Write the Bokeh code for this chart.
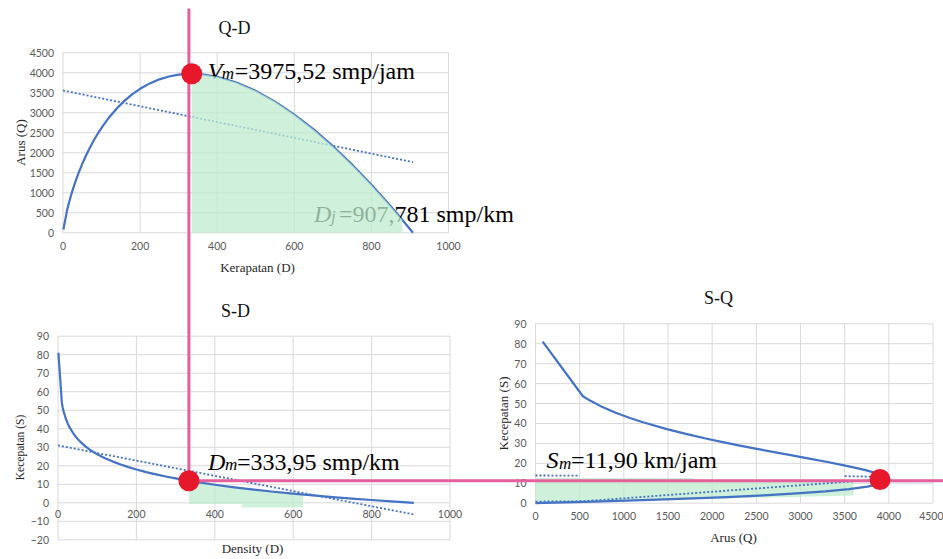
import math

from bokeh.plotting import figure
from bokeh.models import Range1d, LinearAxis, FixedTicker, Label
from bokeh.embed import file_html
from bokeh.resources import INLINE

W, H = 943, 559

# ---- traffic stream readings (density D, speed S, flow Q) ----
density = [1, 10, 12, 15, 20, 25, 30, 40, 50, 60, 70, 80, 90, 100, 120, 140, 160, 180,
           200, 225, 250, 275, 300, 333.95, 360, 400, 450, 500, 550, 600, 650, 700,
           750, 800, 850, 880, 907.78]
speed = [81.05, 53.65, 51.48, 48.82, 45.40, 42.75, 40.58, 37.15, 34.50, 32.33, 30.49,
         28.90, 27.50, 26.25, 24.08, 22.25, 20.66, 19.25, 18.00, 16.60, 15.35, 14.21,
         13.18, 11.90, 11.01, 9.75, 8.35, 7.10, 5.96, 4.93, 3.97, 3.09, 2.27, 1.50,
         0.78, 0.37, 0.0]
flow = [81, 536.5, 617.8, 732.3, 908.0, 1068.7, 1217.3, 1486.1, 1724.9, 1939.7, 2134.5,
        2312.4, 2475.3, 2624.9, 2889.6, 3114.4, 3305.0, 3465.9, 3600.2, 3735.0, 3836.4,
        3908.1, 3952.8, 3975.52, 3962.3, 3901.0, 3757.9, 3548.5, 3279.6, 2956.5,
        2583.8, 2165.1, 1704.0, 1203.2, 665.2, 325.5, 0]

# key stream characteristics
D_M = 333.95      # smp/km
V_M = 3975.52     # smp/jam
S_M = 11.90       # km/jam
D_J = 907.781     # smp/km
SQ_DOT_Q = 3900   # capacity point as placed on the S-Q chart

# dotted trend lines
qd_trend_d = [0, 907.78]
qd_trend_q = [3558, 1767]
sd_trend_d = [0, 907.78]
sd_trend_s = [31.0, -6.3]
sq_trend_a_q = [[0, 500], [3500, 3850]]
sq_trend_a_s = [[13.9, 13.85], [13.55, 13.3]]
sq_trend_b_q = [0, 550, 3850]
sq_trend_b_s = [0.8, 1.0, 11.8]

# highlighted zones
QD_MARK_END = 880
sd_mark_d = [333.95, 400, 450, 470, 500, 550, 600, 625, 625, 470, 470, 333.95]
sd_mark_s = [11.9, 9.75, 8.35, 7.9, 7.1, 5.96, 4.93, 4.4, -2.5, -2.5, -0.6, -0.6]
sq_mark_q = [0, 1800, 1800, 3600, 3600, 0]
sq_mark_s = [12.6, 12.6, 11.4, 11.4, 3.9, 0]

# tick values
qd_x_ticks = [0, 200, 400, 600, 800, 1000]
qd_y_ticks = [0, 500, 1000, 1500, 2000, 2500, 3000, 3500, 4000, 4500]
sd_x_ticks = [0, 200, 400, 600, 800, 1000]
sd_y_ticks = [-20, -10, 0, 10, 20, 30, 40, 50, 60, 70, 80, 90]
sq_x_ticks = [0, 500, 1000, 1500, 2000, 2500, 3000, 3500, 4000, 4500]
sq_y_ticks = [0, 10, 20, 30, 40, 50, 60, 70, 80, 90]

BLUE = "#4472C4"
GRID = "#d9d9d9"
PINK = "#E3609C"
RED = "#E8182C"
GREEN = "#bfeccf"
SERIF = "Liberation Serif"
TICK_FONT = "Lato"


def px_map(p0, p1, v0, v1):
    k = (v1 - v0) / (p1 - p0)
    return lambda p: v0 + (p - p0) * k


# plot-area boxes of the three panels on the page
qd_xf = px_map(62.5, 448.0, 0, 1000)
qd_yf = px_map(232.3, 52.3, 0, 4500)
sd_xf = px_map(57.5, 449.5, 0, 1000)
sd_yf = px_map(502.3, 335.7, 0, 90)
sq_xf = px_map(535.0, 932.5, 0, 4500)
sq_yf = px_map(502.7, 323.3, 0, 90)

p = figure(width=W, height=H, x_range=Range1d(0, W), y_range=Range1d(H, 0),
           output_backend="svg", toolbar_location=None,
           x_axis_location=None, y_axis_location=None, min_border=0,
           outline_line_color=None, background_fill_color="white",
           border_fill_color="white")
p.grid.visible = False

p.extra_x_ranges = {
    "qd_x": Range1d(qd_xf(0), qd_xf(W)),
    "sd_x": Range1d(sd_xf(0), sd_xf(W)),
    "sq_x": Range1d(sq_xf(0), sq_xf(W)),
}
p.extra_y_ranges = {
    "qd_y": Range1d(qd_yf(H), qd_yf(0)),
    "sd_y": Range1d(sd_yf(H), sd_yf(0)),
    "sq_y": Range1d(sq_yf(H), sq_yf(0)),
}


def panel_frame(xr, yr, xticks, yticks, x_standoff=8, y_standoff=9):
    n, m = len(xticks), len(yticks)
    p.segment(x0=xticks, y0=[yticks[0]] * n, x1=xticks, y1=[yticks[-1]] * n,
              x_range_name=xr, y_range_name=yr, line_color=GRID, line_width=1)
    p.segment(x0=[xticks[0]] * m, y0=yticks, x1=[xticks[-1]] * m, y1=yticks,
              x_range_name=xr, y_range_name=yr, line_color=GRID, line_width=1)
    common = dict(x_range_name=xr, y_range_name=yr, fixed_location=0,
                  axis_line_color=None, major_tick_line_color=None,
                  minor_tick_line_color=None, major_tick_out=0, major_tick_in=0,
                  major_label_text_font=TICK_FONT,
                  major_label_text_font_size="10.5px",
                  major_label_text_color="#595959")
    xa = LinearAxis(ticker=FixedTicker(ticks=xticks), bounds=(xticks[0], xticks[-1]),
                    major_label_standoff=x_standoff, **common)
    ya = LinearAxis(ticker=FixedTicker(ticks=yticks), bounds=(yticks[0], yticks[-1]),
                    major_label_standoff=y_standoff, **common)
    p.add_layout(xa, "below")
    p.add_layout(ya, "left")


panel_frame("qd_x", "qd_y", qd_x_ticks, qd_y_ticks, x_standoff=9)
panel_frame("sd_x", "sd_y", sd_x_ticks, sd_y_ticks, x_standoff=7)
panel_frame("sq_x", "sq_y", sq_x_ticks, sq_y_ticks, x_standoff=9)

# highlighted zones under the S-D and S-Q curves
p.patch(sd_mark_d, sd_mark_s, x_range_name="sd_x", y_range_name="sd_y",
        fill_color=GREEN, fill_alpha=0.75, line_color=None)
p.patch(sq_mark_q, sq_mark_s, x_range_name="sq_x", y_range_name="sq_y",
        fill_color=GREEN, fill_alpha=0.75, line_color=None)

# dotted trend lines
dot = dict(line_color=BLUE, line_width=1.8, line_dash="2 2")
p.line(qd_trend_d, qd_trend_q, x_range_name="qd_x", y_range_name="qd_y", **dot)
p.line(sd_trend_d, sd_trend_s, x_range_name="sd_x", y_range_name="sd_y", **dot)
p.multi_line(sq_trend_a_q, sq_trend_a_s, x_range_name="sq_x", y_range_name="sq_y", **dot)
p.line(sq_trend_b_q, sq_trend_b_s, x_range_name="sq_x", y_range_name="sq_y", **dot)

# model curves
curve = dict(line_color=BLUE, line_width=2.2, line_join="round")
p.line(density, flow, x_range_name="qd_x", y_range_name="qd_y", **curve)
p.line(density, speed, x_range_name="sd_x", y_range_name="sd_y", **curve)
p.line(flow, speed, x_range_name="sq_x", y_range_name="sq_y", **curve)


# chart titles and axis titles (page coordinates)
def page_text(x, y, text, size, color="#262626", angle=0.0):
    p.add_layout(Label(x=x, y=y, text=text, text_font=SERIF, text_font_size=size,
                       text_color=color, text_align="center",
                       text_baseline="middle", angle=angle))


page_text(234, 27, "Q-D", "18px", "#111111")
page_text(235, 310, "S-D", "18px", "#111111")
page_text(718, 297, "S-Q", "18px", "#111111")
page_text(257, 267, "Kerapatan (D)", "13px")
page_text(19.5, 142, "Arus (Q)", "13px", angle=math.pi / 2)
page_text(252, 548, "Density (D)", "13px")
page_text(19, 447, "Kecepatan (S)", "11.5px", angle=math.pi / 2)
page_text(503, 413, "Kecepatan (S)", "13px", angle=math.pi / 2)
page_text(733, 537, "Arus (Q)", "13px")


# value call-outs: italic symbol, italic subscript, then the value
def callout(xr, yr, x, y, dx, dy, sym, sub, rest, sym_w, sub_w):
    base = dict(x=x, y=y, x_range_name=xr, y_range_name=yr, text_font=SERIF,
                text_color="black", text_baseline="alphabetic", text_align="left")
    p.add_layout(Label(text=sym, x_offset=dx, y_offset=dy, text_font_size="24px",
                       text_font_style="italic", **base))
    p.add_layout(Label(text=sub, x_offset=dx + sym_w, y_offset=dy - 3,
                       text_font_size="17px", text_font_style="italic", **base))
    p.add_layout(Label(text=rest, x_offset=dx + sym_w + sub_w, y_offset=dy,
                       text_font_size="24px", **base))


callout("qd_x", "qd_y", D_M, V_M, 16, 3, "V", "m", "=3975,52 smp/jam", 14, 13)
callout("qd_x", "qd_y", D_J, 0, -99, 19, "D", "j", "=907,781 smp/km", 17, 8)
callout("sd_x", "sd_y", D_M, S_M, 19, 19, "D", "m", "=333,95 smp/km", 17, 12)
callout("sq_x", "sq_y", 0, S_M, 11, 19, "S", "m", "=11,90 km/jam", 12.5, 12)

# highlighted zone under the Q-D curve, past the capacity point
qd_sel = [i for i, d in enumerate(density) if D_M <= d <= QD_MARK_END]
qd_mark_d = [density[i] for i in qd_sel] + [QD_MARK_END, D_M]
qd_mark_q = [flow[i] for i in qd_sel] + [0, 0]
p.patch(qd_mark_d, qd_mark_q, x_range_name="qd_x", y_range_name="qd_y",
        fill_color=GREEN, fill_alpha=0.75, line_color=None, level="overlay")

# guide lines linking the capacity point across the charts
p.segment(x0=[D_M], y0=[S_M], x1=[D_M], y1=[sd_yf(8)], x_range_name="sd_x",
          y_range_name="sd_y", line_color=PINK, line_width=3, level="overlay")
p.segment(x0=[D_M], y0=[S_M], x1=[sd_xf(W)], y1=[S_M], x_range_name="sd_x",
          y_range_name="sd_y", line_color=PINK, line_width=3, level="overlay")

# capacity points
p.scatter([D_M], [V_M], x_range_name="qd_x", y_range_name="qd_y", size=21,
          fill_color=RED, line_color=None, level="overlay")
p.scatter([D_M], [S_M], x_range_name="sd_x", y_range_name="sd_y", size=21,
          fill_color=RED, line_color=None, level="overlay")
p.scatter([SQ_DOT_Q], [S_M], x_range_name="sq_x", y_range_name="sq_y", size=21,
          fill_color=RED, line_color=None, level="overlay")

open("out.html", "w").write(file_html(p, INLINE))
